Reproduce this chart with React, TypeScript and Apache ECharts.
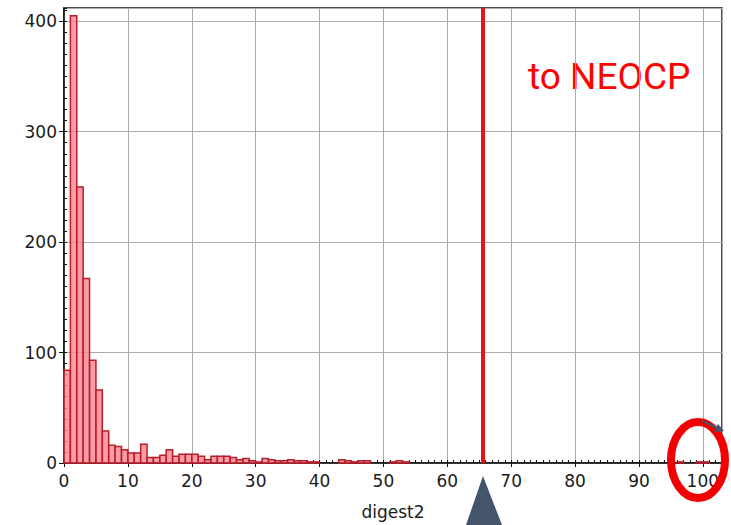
import React, { useEffect, useRef } from "react";
import * as echarts from "echarts";

// histogram bins: start of each bin (width 1) and the count in it
const BIN_WIDTH = 1;
const binStarts = [
  0, 1, 2, 3, 4, 5, 6, 7, 8, 9, 10, 11, 12, 13, 14, 15, 16, 17, 18, 19,
  20, 21, 22, 23, 24, 25, 26, 27, 28, 29, 30, 31, 32, 33, 34, 35, 36, 37, 38, 39,
  43, 44, 45, 46, 47, 51, 52, 53, 96, 99, 100,
];
const counts = [
  84, 405, 250, 167, 93, 66, 29, 16, 15, 12, 9, 9, 17, 5, 5, 7, 12, 6, 8, 8,
  8, 6, 3, 6, 6, 6, 5, 3, 4, 2, 1, 4, 3, 2, 2, 3, 2, 2, 1, 1,
  3, 2, 1, 2, 2, 1, 2, 1, 1, 1, 1,
];
const NEOCP_THRESHOLD = 65.5;
const X_MAX = 103;
const Y_MAX = 412;
const xTickStep = 10;
const yTickStep = 100;
const xAxisName = "digest2";
const annotation = "to NEOCP";

export default function App() {
  const ref = useRef<HTMLDivElement>(null);
  useEffect(() => {
    if (!ref.current) return;
    const chart = echarts.init(ref.current, null, { renderer: "svg" });
    const data = binStarts.map((b, i) => [b, counts[i]]);
    const labelStyle = {
      color: "#1a1a1a",
      fontFamily: "DejaVu Sans",
      fontSize: 17,
    };
    const option: any = {
      animation: false,
      backgroundColor: "#ffffff",
      grid: {
        left: 64,
        right: 9,
        top: 8,
        bottom: 62,
        show: true,
        borderColor: "#111",
        borderWidth: 1.5,
        containLabel: false,
      },
      xAxis: [
        {
          type: "value",
          min: 0,
          max: X_MAX,
          interval: xTickStep,
          position: "bottom",
          name: xAxisName,
          nameLocation: "middle",
          nameGap: 40,
          nameTextStyle: { color: "#1a1a1a", fontFamily: "DejaVu Sans", fontSize: 17 },
          axisLine: { show: true, lineStyle: { color: "#111", width: 1.5 } },
          axisTick: { show: true, length: 4, lineStyle: { color: "#111" } },
          axisLabel: { ...labelStyle, margin: 9, showMaxLabel: false },
          splitLine: { show: true, lineStyle: { color: "#ababab", width: 1 } },
        },
        {
          type: "value",
          min: 0,
          max: X_MAX,
          interval: 1,
          position: "bottom",
          axisLine: { show: false },
          axisTick: { show: true, inside: true, length: 3, lineStyle: { color: "#111" } },
          axisLabel: { show: false },
          splitLine: { show: false },
        },
      ],
      yAxis: [
        {
          type: "value",
          min: 0,
          max: Y_MAX,
          interval: yTickStep,
          position: "left",
          axisLine: { show: true, lineStyle: { color: "#111", width: 1.5 } },
          axisTick: { show: true, length: 5, lineStyle: { color: "#111" } },
          axisLabel: { ...labelStyle, margin: 7, showMaxLabel: false },
          splitLine: { show: true, lineStyle: { color: "#ababab", width: 1 } },
        },
        {
          type: "value",
          min: 0,
          max: Y_MAX,
          interval: 10,
          position: "left",
          axisLine: { show: false },
          axisTick: { show: true, inside: true, length: 3, lineStyle: { color: "#111" } },
          axisLabel: { show: false },
          splitLine: { show: false },
        },
      ],
      series: [
        {
          type: "custom",
          xAxisIndex: 0,
          yAxisIndex: 0,
          data,
          renderItem: (params: any, api: any) => {
            const x0 = api.value(0);
            const v = api.value(1);
            if (!v) return null;
            const p0 = api.coord([x0, 0]);
            const p1 = api.coord([x0 + BIN_WIDTH, v]);
            return {
              type: "rect",
              shape: {
                x: p0[0],
                y: p1[1],
                width: p1[0] - p0[0],
                height: p0[1] - p1[1],
              },
              style: {
                fill: "rgba(250,130,142,0.8)",
                stroke: "#b81e2a",
                lineWidth: 1.5,
              },
            };
          },
          markLine: {
            silent: true,
            symbol: "none",
            label: { show: false },
            lineStyle: { color: "#e8141c", width: 4, type: "solid" },
            data: [{ xAxis: NEOCP_THRESHOLD }],
          },
        },
      ],
      graphic: [
        {
          type: "text",
          left: 528,
          top: 58,
          style: {
            text: annotation,
            fill: "#ff0000",
            font: "37px Roboto",
          },
        },
        {
          type: "ellipse",
          shape: { cx: 698, cy: 460, rx: 27, ry: 38 },
          style: { fill: "none", stroke: "#f20000", lineWidth: 8 },
          z: 100,
        },
        {
          type: "line",
          shape: { x1: 702, y1: 421, x2: 718, y2: 428 },
          style: { stroke: "#44546e", lineWidth: 2 },
          z: 101,
        },
        {
          type: "polygon",
          shape: { points: [[724, 431], [714, 432], [718, 424]] },
          style: { fill: "#44546e" },
          z: 101,
        },
        {
          type: "polygon",
          shape: { points: [[483, 476], [466, 525], [502, 525]] },
          style: { fill: "#44546b" },
          z: 101,
        },
      ],
    };
    chart.setOption(option);
    return () => chart.dispose();
  }, []);
  return (
    <div
      ref={ref}
      style={{ position: "fixed", left: 0, top: 0, width: 731, height: 525 }}
    />
  );
}
